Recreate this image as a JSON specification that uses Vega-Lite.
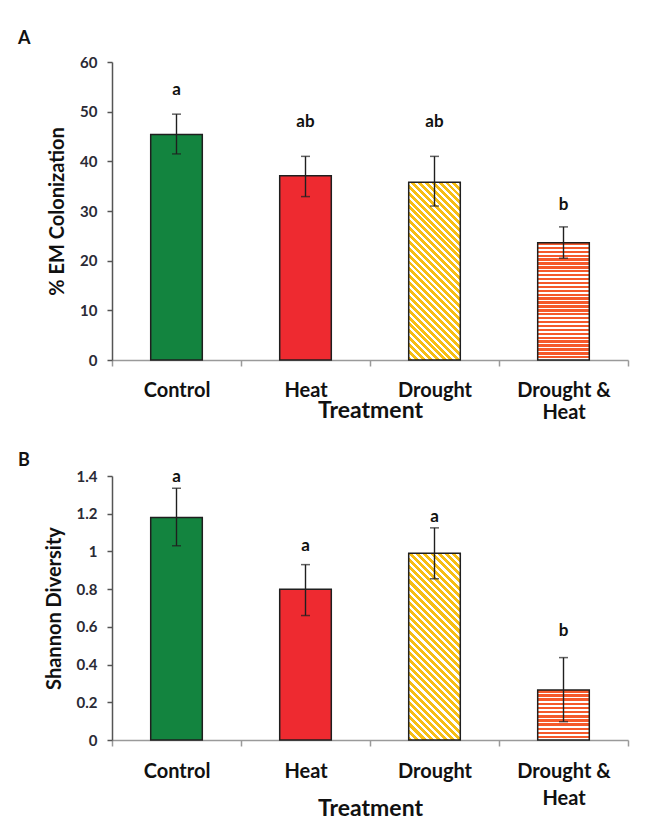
{
  "$schema": "https://vega.github.io/schema/vega-lite/v6.json",
  "background": "white",
  "padding": {"left": 18, "top": 30, "right": 5, "bottom": 5},
  "spacing": 29,
  "config": {"font": "Lato", "view": {"stroke": null}, "axisY": {"labelOverlap": false, "labelSeparation": 0}, "axisQuantitative": {"labelOverlap": false}},
  "datasets": {
    "em": [
      {"treatment": "Control", "mean": 45.4, "lo": 41.5, "hi": 49.5, "letter": "a", "letter_at": 54.3},
      {"treatment": "Heat", "mean": 37.1, "lo": 32.9, "hi": 41.0, "letter": "ab", "letter_at": 47.9},
      {"treatment": "Drought", "mean": 35.8, "lo": 31.0, "hi": 41.0, "letter": "ab", "letter_at": 47.9},
      {"treatment": "Drought & Heat", "mean": 23.6, "lo": 20.5, "hi": 26.8, "letter": "b", "letter_at": 31.2}
    ],
    "shannon": [
      {"treatment": "Control", "mean": 1.18, "lo": 1.03, "hi": 1.335, "letter": "a", "letter_at": 1.395},
      {"treatment": "Heat", "mean": 0.80, "lo": 0.66, "hi": 0.93, "letter": "a", "letter_at": 1.03},
      {"treatment": "Drought", "mean": 0.99, "lo": 0.855, "hi": 1.125, "letter": "a", "letter_at": 1.18},
      {"treatment": "Drought & Heat", "mean": 0.265, "lo": 0.097, "hi": 0.437, "letter": "b", "letter_at": 0.58}
    ]
  },
  "vconcat": [
    {
      "data": {"name": "em"},
      "width": 516,
      "height": 298,
      "title": {"text": "A", "anchor": "start", "frame": "group", "dx": -94, "offset": -7, "fontSize": 18, "fontWeight": "bold", "color": "#111", "baseline": "alphabetic"},
      "encoding": {
        "x": {
          "field": "treatment", "type": "nominal", "title": "Treatment",
          "scale": {"domain": ["Control", "Heat", "Drought", "Drought & Heat"], "paddingInner": 0, "paddingOuter": 0},
          "axis": {"labelAngle": 0, "tickBand": "extent", "domainColor": "#9a9a9a", "domainWidth": 1.5, "tickColor": "#9a9a9a", "tickWidth": 1.5, "tickSize": 6, "labelFontSize": 20, "labelFontWeight": "bold", "labelColor": "#111", "labelPadding": 14, "labelLineHeight": 22, "labelExpr": "datum.label == 'Drought & Heat' ? ['Drought &', 'Heat'] : datum.label", "titleFontSize": 23, "titleFontWeight": "bold", "titleColor": "#111", "titleY": 39, "titleBaseline": "top"}
        }
      },
      "layer": [
        {
          "transform": [{"filter": "datum.treatment == 'Control'"}],
          "mark": {"type": "bar", "width": {"band": 0.4}, "fill": "#13843f", "stroke": "#1f1f1f", "strokeWidth": 1.5},
          "encoding": {"y": {"field": "mean", "type": "quantitative", "title": "% EM Colonization", "scale": {"domain": [0, 60]},
            "axis": {"values": [0, 10, 20, 30, 40, 50, 60], "labelOverlap": false, "grid": false, "domainColor": "#555", "domainWidth": 1.5, "tickColor": "#555", "tickWidth": 1.5, "tickSize": 5, "labelFontSize": 15, "labelFontWeight": "bold", "labelColor": "#2a2a35", "labelPadding": 10, "titleFontSize": 20, "titleFontWeight": "bold", "titleColor": "#111", "titlePadding": 12}}}
        },
        {
          "transform": [{"filter": "datum.treatment == 'Heat'"}],
          "mark": {"type": "bar", "width": {"band": 0.4}, "fill": "#ee2a30", "stroke": "#1f1f1f", "strokeWidth": 1.5},
          "encoding": {"y": {"field": "mean", "type": "quantitative", "title": "% EM Colonization"}}
        },
        {
          "transform": [{"filter": "datum.treatment == 'Drought'"}],
          "mark": {"type": "bar", "width": {"band": 0.4}, "stroke": "#1f1f1f", "strokeWidth": 1.5,
            "fill": {"gradient": "linear", "x1": 0, "y1": 1, "x2": 0.3454, "y2": -0.19, "stops": [
              {"offset":0,"color":"#f6be14"},{"offset":0.017,"color":"#f6be14"},{"offset":0.017,"color":"#fff"},{"offset":0.03,"color":"#fff"},
              {"offset":0.03,"color":"#f6be14"},{"offset":0.047,"color":"#f6be14"},{"offset":0.047,"color":"#fff"},{"offset":0.06,"color":"#fff"},
              {"offset":0.06,"color":"#f6be14"},{"offset":0.077,"color":"#f6be14"},{"offset":0.077,"color":"#fff"},{"offset":0.09,"color":"#fff"},
              {"offset":0.09,"color":"#f6be14"},{"offset":0.107,"color":"#f6be14"},{"offset":0.107,"color":"#fff"},{"offset":0.12,"color":"#fff"},
              {"offset":0.12,"color":"#f6be14"},{"offset":0.137,"color":"#f6be14"},{"offset":0.137,"color":"#fff"},{"offset":0.15,"color":"#fff"},
              {"offset":0.15,"color":"#f6be14"},{"offset":0.167,"color":"#f6be14"},{"offset":0.167,"color":"#fff"},{"offset":0.18,"color":"#fff"},
              {"offset":0.18,"color":"#f6be14"},{"offset":0.197,"color":"#f6be14"},{"offset":0.197,"color":"#fff"},{"offset":0.21,"color":"#fff"},
              {"offset":0.21,"color":"#f6be14"},{"offset":0.227,"color":"#f6be14"},{"offset":0.227,"color":"#fff"},{"offset":0.24,"color":"#fff"},
              {"offset":0.24,"color":"#f6be14"},{"offset":0.257,"color":"#f6be14"},{"offset":0.257,"color":"#fff"},{"offset":0.27,"color":"#fff"},
              {"offset":0.27,"color":"#f6be14"},{"offset":0.287,"color":"#f6be14"},{"offset":0.287,"color":"#fff"},{"offset":0.3,"color":"#fff"},
              {"offset":0.3,"color":"#f6be14"},{"offset":0.317,"color":"#f6be14"},{"offset":0.317,"color":"#fff"},{"offset":0.33,"color":"#fff"},
              {"offset":0.33,"color":"#f6be14"},{"offset":0.347,"color":"#f6be14"},{"offset":0.347,"color":"#fff"},{"offset":0.36,"color":"#fff"},
              {"offset":0.36,"color":"#f6be14"},{"offset":0.377,"color":"#f6be14"},{"offset":0.377,"color":"#fff"},{"offset":0.39,"color":"#fff"},
              {"offset":0.39,"color":"#f6be14"},{"offset":0.407,"color":"#f6be14"},{"offset":0.407,"color":"#fff"},{"offset":0.42,"color":"#fff"},
              {"offset":0.42,"color":"#f6be14"},{"offset":0.437,"color":"#f6be14"},{"offset":0.437,"color":"#fff"},{"offset":0.45,"color":"#fff"},
              {"offset":0.45,"color":"#f6be14"},{"offset":0.467,"color":"#f6be14"},{"offset":0.467,"color":"#fff"},{"offset":0.48,"color":"#fff"},
              {"offset":0.48,"color":"#f6be14"},{"offset":0.497,"color":"#f6be14"},{"offset":0.497,"color":"#fff"},{"offset":0.51,"color":"#fff"},
              {"offset":0.51,"color":"#f6be14"},{"offset":0.527,"color":"#f6be14"},{"offset":0.527,"color":"#fff"},{"offset":0.54,"color":"#fff"},
              {"offset":0.54,"color":"#f6be14"},{"offset":0.557,"color":"#f6be14"},{"offset":0.557,"color":"#fff"},{"offset":0.57,"color":"#fff"},
              {"offset":0.57,"color":"#f6be14"},{"offset":0.587,"color":"#f6be14"},{"offset":0.587,"color":"#fff"},{"offset":0.6,"color":"#fff"},
              {"offset":0.6,"color":"#f6be14"},{"offset":0.617,"color":"#f6be14"},{"offset":0.617,"color":"#fff"},{"offset":0.63,"color":"#fff"},
              {"offset":0.63,"color":"#f6be14"},{"offset":0.647,"color":"#f6be14"},{"offset":0.647,"color":"#fff"},{"offset":0.66,"color":"#fff"},
              {"offset":0.66,"color":"#f6be14"},{"offset":0.677,"color":"#f6be14"},{"offset":0.677,"color":"#fff"},{"offset":0.69,"color":"#fff"},
              {"offset":0.69,"color":"#f6be14"},{"offset":0.707,"color":"#f6be14"},{"offset":0.707,"color":"#fff"},{"offset":0.72,"color":"#fff"},
              {"offset":0.72,"color":"#f6be14"},{"offset":0.737,"color":"#f6be14"},{"offset":0.737,"color":"#fff"},{"offset":0.75,"color":"#fff"},
              {"offset":0.75,"color":"#f6be14"},{"offset":0.767,"color":"#f6be14"},{"offset":0.767,"color":"#fff"},{"offset":0.78,"color":"#fff"},
              {"offset":0.78,"color":"#f6be14"},{"offset":0.797,"color":"#f6be14"},{"offset":0.797,"color":"#fff"},{"offset":0.81,"color":"#fff"},
              {"offset":0.81,"color":"#f6be14"},{"offset":0.827,"color":"#f6be14"},{"offset":0.827,"color":"#fff"},{"offset":0.84,"color":"#fff"},
              {"offset":0.84,"color":"#f6be14"},{"offset":0.857,"color":"#f6be14"},{"offset":0.857,"color":"#fff"},{"offset":0.87,"color":"#fff"},
              {"offset":0.87,"color":"#f6be14"},{"offset":0.887,"color":"#f6be14"},{"offset":0.887,"color":"#fff"},{"offset":0.9,"color":"#fff"},
              {"offset":0.9,"color":"#f6be14"},{"offset":0.917,"color":"#f6be14"},{"offset":0.917,"color":"#fff"},{"offset":0.93,"color":"#fff"},
              {"offset":0.93,"color":"#f6be14"},{"offset":0.947,"color":"#f6be14"},{"offset":0.947,"color":"#fff"},{"offset":0.96,"color":"#fff"},
              {"offset":0.96,"color":"#f6be14"},{"offset":0.977,"color":"#f6be14"},{"offset":0.977,"color":"#fff"},{"offset":0.99,"color":"#fff"},
              {"offset":0.99,"color":"#f6be14"},{"offset":1,"color":"#f6be14"}
            ]}},
          "encoding": {"y": {"field": "mean", "type": "quantitative", "title": "% EM Colonization"}}
        },
        {
          "transform": [{"filter": "datum.treatment == 'Drought & Heat'"}],
          "mark": {"type": "bar", "width": {"band": 0.4}, "stroke": "#1f1f1f", "strokeWidth": 1.5,
            "fill": {"gradient": "linear", "x1": 0, "y1": 0, "x2": 0, "y2": 1, "stops": [
              {"offset":0,"color":"#f5592b"},{"offset":0.02,"color":"#f5592b"},{"offset":0.02,"color":"#fff"},{"offset":0.0333,"color":"#fff"},
              {"offset":0.0333,"color":"#f5592b"},{"offset":0.0533,"color":"#f5592b"},{"offset":0.0533,"color":"#fff"},{"offset":0.0667,"color":"#fff"},
              {"offset":0.0667,"color":"#f5592b"},{"offset":0.0867,"color":"#f5592b"},{"offset":0.0867,"color":"#fff"},{"offset":0.1,"color":"#fff"},
              {"offset":0.1,"color":"#f5592b"},{"offset":0.12,"color":"#f5592b"},{"offset":0.12,"color":"#fff"},{"offset":0.1333,"color":"#fff"},
              {"offset":0.1333,"color":"#f5592b"},{"offset":0.1533,"color":"#f5592b"},{"offset":0.1533,"color":"#fff"},{"offset":0.1667,"color":"#fff"},
              {"offset":0.1667,"color":"#f5592b"},{"offset":0.1867,"color":"#f5592b"},{"offset":0.1867,"color":"#fff"},{"offset":0.2,"color":"#fff"},
              {"offset":0.2,"color":"#f5592b"},{"offset":0.22,"color":"#f5592b"},{"offset":0.22,"color":"#fff"},{"offset":0.2333,"color":"#fff"},
              {"offset":0.2333,"color":"#f5592b"},{"offset":0.2533,"color":"#f5592b"},{"offset":0.2533,"color":"#fff"},{"offset":0.2667,"color":"#fff"},
              {"offset":0.2667,"color":"#f5592b"},{"offset":0.2867,"color":"#f5592b"},{"offset":0.2867,"color":"#fff"},{"offset":0.3,"color":"#fff"},
              {"offset":0.3,"color":"#f5592b"},{"offset":0.32,"color":"#f5592b"},{"offset":0.32,"color":"#fff"},{"offset":0.3333,"color":"#fff"},
              {"offset":0.3333,"color":"#f5592b"},{"offset":0.3533,"color":"#f5592b"},{"offset":0.3533,"color":"#fff"},{"offset":0.3667,"color":"#fff"},
              {"offset":0.3667,"color":"#f5592b"},{"offset":0.3867,"color":"#f5592b"},{"offset":0.3867,"color":"#fff"},{"offset":0.4,"color":"#fff"},
              {"offset":0.4,"color":"#f5592b"},{"offset":0.42,"color":"#f5592b"},{"offset":0.42,"color":"#fff"},{"offset":0.4333,"color":"#fff"},
              {"offset":0.4333,"color":"#f5592b"},{"offset":0.4533,"color":"#f5592b"},{"offset":0.4533,"color":"#fff"},{"offset":0.4667,"color":"#fff"},
              {"offset":0.4667,"color":"#f5592b"},{"offset":0.4867,"color":"#f5592b"},{"offset":0.4867,"color":"#fff"},{"offset":0.5,"color":"#fff"},
              {"offset":0.5,"color":"#f5592b"},{"offset":0.52,"color":"#f5592b"},{"offset":0.52,"color":"#fff"},{"offset":0.5333,"color":"#fff"},
              {"offset":0.5333,"color":"#f5592b"},{"offset":0.5533,"color":"#f5592b"},{"offset":0.5533,"color":"#fff"},{"offset":0.5667,"color":"#fff"},
              {"offset":0.5667,"color":"#f5592b"},{"offset":0.5867,"color":"#f5592b"},{"offset":0.5867,"color":"#fff"},{"offset":0.6,"color":"#fff"},
              {"offset":0.6,"color":"#f5592b"},{"offset":0.62,"color":"#f5592b"},{"offset":0.62,"color":"#fff"},{"offset":0.6333,"color":"#fff"},
              {"offset":0.6333,"color":"#f5592b"},{"offset":0.6533,"color":"#f5592b"},{"offset":0.6533,"color":"#fff"},{"offset":0.6667,"color":"#fff"},
              {"offset":0.6667,"color":"#f5592b"},{"offset":0.6867,"color":"#f5592b"},{"offset":0.6867,"color":"#fff"},{"offset":0.7,"color":"#fff"},
              {"offset":0.7,"color":"#f5592b"},{"offset":0.72,"color":"#f5592b"},{"offset":0.72,"color":"#fff"},{"offset":0.7333,"color":"#fff"},
              {"offset":0.7333,"color":"#f5592b"},{"offset":0.7533,"color":"#f5592b"},{"offset":0.7533,"color":"#fff"},{"offset":0.7667,"color":"#fff"},
              {"offset":0.7667,"color":"#f5592b"},{"offset":0.7867,"color":"#f5592b"},{"offset":0.7867,"color":"#fff"},{"offset":0.8,"color":"#fff"},
              {"offset":0.8,"color":"#f5592b"},{"offset":0.82,"color":"#f5592b"},{"offset":0.82,"color":"#fff"},{"offset":0.8333,"color":"#fff"},
              {"offset":0.8333,"color":"#f5592b"},{"offset":0.8533,"color":"#f5592b"},{"offset":0.8533,"color":"#fff"},{"offset":0.8667,"color":"#fff"},
              {"offset":0.8667,"color":"#f5592b"},{"offset":0.8867,"color":"#f5592b"},{"offset":0.8867,"color":"#fff"},{"offset":0.9,"color":"#fff"},
              {"offset":0.9,"color":"#f5592b"},{"offset":0.92,"color":"#f5592b"},{"offset":0.92,"color":"#fff"},{"offset":0.9333,"color":"#fff"},
              {"offset":0.9333,"color":"#f5592b"},{"offset":0.9533,"color":"#f5592b"},{"offset":0.9533,"color":"#fff"},{"offset":0.9667,"color":"#fff"},
              {"offset":0.9667,"color":"#f5592b"},{"offset":0.9867,"color":"#f5592b"},{"offset":0.9867,"color":"#fff"},{"offset":1,"color":"#fff"}
            ]}},
          "encoding": {"y": {"field": "mean", "type": "quantitative", "title": "% EM Colonization"}}
        },
        {
          "mark": {"type": "rule", "color": "#1f1f1f", "strokeWidth": 1.4},
          "encoding": {"y": {"field": "lo", "type": "quantitative", "title": "% EM Colonization"}, "y2": {"field": "hi"}}
        },
        {
          "mark": {"type": "tick", "color": "#1f1f1f", "size": 9, "thickness": 1.5},
          "encoding": {"y": {"field": "lo", "type": "quantitative", "title": "% EM Colonization"}}
        },
        {
          "mark": {"type": "tick", "color": "#1f1f1f", "size": 9, "thickness": 1.5},
          "encoding": {"y": {"field": "hi", "type": "quantitative", "title": "% EM Colonization"}}
        },
        {
          "mark": {"type": "text", "fontSize": 17, "fontWeight": "bold", "color": "#111", "baseline": "middle"},
          "encoding": {"y": {"field": "letter_at", "type": "quantitative", "title": "% EM Colonization"}, "text": {"field": "letter"}}
        }
      ]
    },
    {
      "data": {"name": "shannon"},
      "width": 516,
      "height": 264,
      "title": {"text": "B", "anchor": "start", "frame": "group", "dx": -94, "offset": -16, "fontSize": 18, "fontWeight": "bold", "color": "#111", "baseline": "alphabetic"},
      "encoding": {
        "x": {
          "field": "treatment", "type": "nominal", "title": "Treatment",
          "scale": {"domain": ["Control", "Heat", "Drought", "Drought & Heat"], "paddingInner": 0, "paddingOuter": 0},
          "axis": {"labelAngle": 0, "tickBand": "extent", "domainColor": "#9a9a9a", "domainWidth": 1.5, "tickColor": "#9a9a9a", "tickWidth": 1.5, "tickSize": 6, "labelFontSize": 20, "labelFontWeight": "bold", "labelColor": "#111", "labelPadding": 15, "labelLineHeight": 27, "labelExpr": "datum.label == 'Drought & Heat' ? ['Drought &', 'Heat'] : datum.label", "titleFontSize": 23, "titleFontWeight": "bold", "titleColor": "#111", "titleY": 57, "titleBaseline": "top"}
        }
      },
      "layer": [
        {
          "transform": [{"filter": "datum.treatment == 'Control'"}],
          "mark": {"type": "bar", "width": {"band": 0.4}, "fill": "#13843f", "stroke": "#1f1f1f", "strokeWidth": 1.5},
          "encoding": {"y": {"field": "mean", "type": "quantitative", "title": "Shannon Diversity", "scale": {"domain": [0, 1.4]},
            "axis": {"values": [0, 0.2, 0.4, 0.6, 0.8, 1, 1.2, 1.4], "tickCount": 8, "labelOverlap": false, "labelExpr": "toString(datum.value)", "grid": false, "domainColor": "#555", "domainWidth": 1.5, "tickColor": "#555", "tickWidth": 1.5, "tickSize": 5, "labelFontSize": 15, "labelFontWeight": "bold", "labelColor": "#2a2a35", "labelPadding": 10, "titleFontSize": 20, "titleFontWeight": "bold", "titleColor": "#111", "titlePadding": 12}}}
        },
        {
          "transform": [{"filter": "datum.treatment == 'Heat'"}],
          "mark": {"type": "bar", "width": {"band": 0.4}, "fill": "#ee2a30", "stroke": "#1f1f1f", "strokeWidth": 1.5},
          "encoding": {"y": {"field": "mean", "type": "quantitative", "title": "Shannon Diversity"}}
        },
        {
          "transform": [{"filter": "datum.treatment == 'Drought'"}],
          "mark": {"type": "bar", "width": {"band": 0.4}, "stroke": "#1f1f1f", "strokeWidth": 1.5,
            "fill": {"gradient": "linear", "x1": 0, "y1": 1, "x2": 0.3277, "y2": -0.1858, "stops": [
              {"offset":0,"color":"#f6be14"},{"offset":0.017,"color":"#f6be14"},{"offset":0.017,"color":"#fff"},{"offset":0.03,"color":"#fff"},
              {"offset":0.03,"color":"#f6be14"},{"offset":0.047,"color":"#f6be14"},{"offset":0.047,"color":"#fff"},{"offset":0.06,"color":"#fff"},
              {"offset":0.06,"color":"#f6be14"},{"offset":0.077,"color":"#f6be14"},{"offset":0.077,"color":"#fff"},{"offset":0.09,"color":"#fff"},
              {"offset":0.09,"color":"#f6be14"},{"offset":0.107,"color":"#f6be14"},{"offset":0.107,"color":"#fff"},{"offset":0.12,"color":"#fff"},
              {"offset":0.12,"color":"#f6be14"},{"offset":0.137,"color":"#f6be14"},{"offset":0.137,"color":"#fff"},{"offset":0.15,"color":"#fff"},
              {"offset":0.15,"color":"#f6be14"},{"offset":0.167,"color":"#f6be14"},{"offset":0.167,"color":"#fff"},{"offset":0.18,"color":"#fff"},
              {"offset":0.18,"color":"#f6be14"},{"offset":0.197,"color":"#f6be14"},{"offset":0.197,"color":"#fff"},{"offset":0.21,"color":"#fff"},
              {"offset":0.21,"color":"#f6be14"},{"offset":0.227,"color":"#f6be14"},{"offset":0.227,"color":"#fff"},{"offset":0.24,"color":"#fff"},
              {"offset":0.24,"color":"#f6be14"},{"offset":0.257,"color":"#f6be14"},{"offset":0.257,"color":"#fff"},{"offset":0.27,"color":"#fff"},
              {"offset":0.27,"color":"#f6be14"},{"offset":0.287,"color":"#f6be14"},{"offset":0.287,"color":"#fff"},{"offset":0.3,"color":"#fff"},
              {"offset":0.3,"color":"#f6be14"},{"offset":0.317,"color":"#f6be14"},{"offset":0.317,"color":"#fff"},{"offset":0.33,"color":"#fff"},
              {"offset":0.33,"color":"#f6be14"},{"offset":0.347,"color":"#f6be14"},{"offset":0.347,"color":"#fff"},{"offset":0.36,"color":"#fff"},
              {"offset":0.36,"color":"#f6be14"},{"offset":0.377,"color":"#f6be14"},{"offset":0.377,"color":"#fff"},{"offset":0.39,"color":"#fff"},
              {"offset":0.39,"color":"#f6be14"},{"offset":0.407,"color":"#f6be14"},{"offset":0.407,"color":"#fff"},{"offset":0.42,"color":"#fff"},
              {"offset":0.42,"color":"#f6be14"},{"offset":0.437,"color":"#f6be14"},{"offset":0.437,"color":"#fff"},{"offset":0.45,"color":"#fff"},
              {"offset":0.45,"color":"#f6be14"},{"offset":0.467,"color":"#f6be14"},{"offset":0.467,"color":"#fff"},{"offset":0.48,"color":"#fff"},
              {"offset":0.48,"color":"#f6be14"},{"offset":0.497,"color":"#f6be14"},{"offset":0.497,"color":"#fff"},{"offset":0.51,"color":"#fff"},
              {"offset":0.51,"color":"#f6be14"},{"offset":0.527,"color":"#f6be14"},{"offset":0.527,"color":"#fff"},{"offset":0.54,"color":"#fff"},
              {"offset":0.54,"color":"#f6be14"},{"offset":0.557,"color":"#f6be14"},{"offset":0.557,"color":"#fff"},{"offset":0.57,"color":"#fff"},
              {"offset":0.57,"color":"#f6be14"},{"offset":0.587,"color":"#f6be14"},{"offset":0.587,"color":"#fff"},{"offset":0.6,"color":"#fff"},
              {"offset":0.6,"color":"#f6be14"},{"offset":0.617,"color":"#f6be14"},{"offset":0.617,"color":"#fff"},{"offset":0.63,"color":"#fff"},
              {"offset":0.63,"color":"#f6be14"},{"offset":0.647,"color":"#f6be14"},{"offset":0.647,"color":"#fff"},{"offset":0.66,"color":"#fff"},
              {"offset":0.66,"color":"#f6be14"},{"offset":0.677,"color":"#f6be14"},{"offset":0.677,"color":"#fff"},{"offset":0.69,"color":"#fff"},
              {"offset":0.69,"color":"#f6be14"},{"offset":0.707,"color":"#f6be14"},{"offset":0.707,"color":"#fff"},{"offset":0.72,"color":"#fff"},
              {"offset":0.72,"color":"#f6be14"},{"offset":0.737,"color":"#f6be14"},{"offset":0.737,"color":"#fff"},{"offset":0.75,"color":"#fff"},
              {"offset":0.75,"color":"#f6be14"},{"offset":0.767,"color":"#f6be14"},{"offset":0.767,"color":"#fff"},{"offset":0.78,"color":"#fff"},
              {"offset":0.78,"color":"#f6be14"},{"offset":0.797,"color":"#f6be14"},{"offset":0.797,"color":"#fff"},{"offset":0.81,"color":"#fff"},
              {"offset":0.81,"color":"#f6be14"},{"offset":0.827,"color":"#f6be14"},{"offset":0.827,"color":"#fff"},{"offset":0.84,"color":"#fff"},
              {"offset":0.84,"color":"#f6be14"},{"offset":0.857,"color":"#f6be14"},{"offset":0.857,"color":"#fff"},{"offset":0.87,"color":"#fff"},
              {"offset":0.87,"color":"#f6be14"},{"offset":0.887,"color":"#f6be14"},{"offset":0.887,"color":"#fff"},{"offset":0.9,"color":"#fff"},
              {"offset":0.9,"color":"#f6be14"},{"offset":0.917,"color":"#f6be14"},{"offset":0.917,"color":"#fff"},{"offset":0.93,"color":"#fff"},
              {"offset":0.93,"color":"#f6be14"},{"offset":0.947,"color":"#f6be14"},{"offset":0.947,"color":"#fff"},{"offset":0.96,"color":"#fff"},
              {"offset":0.96,"color":"#f6be14"},{"offset":0.977,"color":"#f6be14"},{"offset":0.977,"color":"#fff"},{"offset":0.99,"color":"#fff"},
              {"offset":0.99,"color":"#f6be14"},{"offset":1,"color":"#f6be14"}
            ]}},
          "encoding": {"y": {"field": "mean", "type": "quantitative", "title": "Shannon Diversity"}}
        },
        {
          "transform": [{"filter": "datum.treatment == 'Drought & Heat'"}],
          "mark": {"type": "bar", "width": {"band": 0.4}, "stroke": "#1f1f1f", "strokeWidth": 1.5,
            "fill": {"gradient": "linear", "x1": 0, "y1": 0, "x2": 0, "y2": 1, "stops": [
              {"offset":0,"color":"#f5592b"},{"offset":0.05,"color":"#f5592b"},{"offset":0.05,"color":"#fff"},{"offset":0.0833,"color":"#fff"},
              {"offset":0.0833,"color":"#f5592b"},{"offset":0.1333,"color":"#f5592b"},{"offset":0.1333,"color":"#fff"},{"offset":0.1667,"color":"#fff"},
              {"offset":0.1667,"color":"#f5592b"},{"offset":0.2167,"color":"#f5592b"},{"offset":0.2167,"color":"#fff"},{"offset":0.25,"color":"#fff"},
              {"offset":0.25,"color":"#f5592b"},{"offset":0.3,"color":"#f5592b"},{"offset":0.3,"color":"#fff"},{"offset":0.3333,"color":"#fff"},
              {"offset":0.3333,"color":"#f5592b"},{"offset":0.3833,"color":"#f5592b"},{"offset":0.3833,"color":"#fff"},{"offset":0.4167,"color":"#fff"},
              {"offset":0.4167,"color":"#f5592b"},{"offset":0.4667,"color":"#f5592b"},{"offset":0.4667,"color":"#fff"},{"offset":0.5,"color":"#fff"},
              {"offset":0.5,"color":"#f5592b"},{"offset":0.55,"color":"#f5592b"},{"offset":0.55,"color":"#fff"},{"offset":0.5833,"color":"#fff"},
              {"offset":0.5833,"color":"#f5592b"},{"offset":0.6333,"color":"#f5592b"},{"offset":0.6333,"color":"#fff"},{"offset":0.6667,"color":"#fff"},
              {"offset":0.6667,"color":"#f5592b"},{"offset":0.7167,"color":"#f5592b"},{"offset":0.7167,"color":"#fff"},{"offset":0.75,"color":"#fff"},
              {"offset":0.75,"color":"#f5592b"},{"offset":0.8,"color":"#f5592b"},{"offset":0.8,"color":"#fff"},{"offset":0.8333,"color":"#fff"},
              {"offset":0.8333,"color":"#f5592b"},{"offset":0.8833,"color":"#f5592b"},{"offset":0.8833,"color":"#fff"},{"offset":0.9167,"color":"#fff"},
              {"offset":0.9167,"color":"#f5592b"},{"offset":0.9667,"color":"#f5592b"},{"offset":0.9667,"color":"#fff"},{"offset":1,"color":"#fff"}
            ]}},
          "encoding": {"y": {"field": "mean", "type": "quantitative", "title": "Shannon Diversity"}}
        },
        {
          "mark": {"type": "rule", "color": "#1f1f1f", "strokeWidth": 1.4},
          "encoding": {"y": {"field": "lo", "type": "quantitative", "title": "Shannon Diversity"}, "y2": {"field": "hi"}}
        },
        {
          "mark": {"type": "tick", "color": "#1f1f1f", "size": 9, "thickness": 1.5},
          "encoding": {"y": {"field": "lo", "type": "quantitative", "title": "Shannon Diversity"}}
        },
        {
          "mark": {"type": "tick", "color": "#1f1f1f", "size": 9, "thickness": 1.5},
          "encoding": {"y": {"field": "hi", "type": "quantitative", "title": "Shannon Diversity"}}
        },
        {
          "mark": {"type": "text", "fontSize": 17, "fontWeight": "bold", "color": "#111", "baseline": "middle"},
          "encoding": {"y": {"field": "letter_at", "type": "quantitative", "title": "Shannon Diversity"}, "text": {"field": "letter"}}
        }
      ]
    }
  ]
}
